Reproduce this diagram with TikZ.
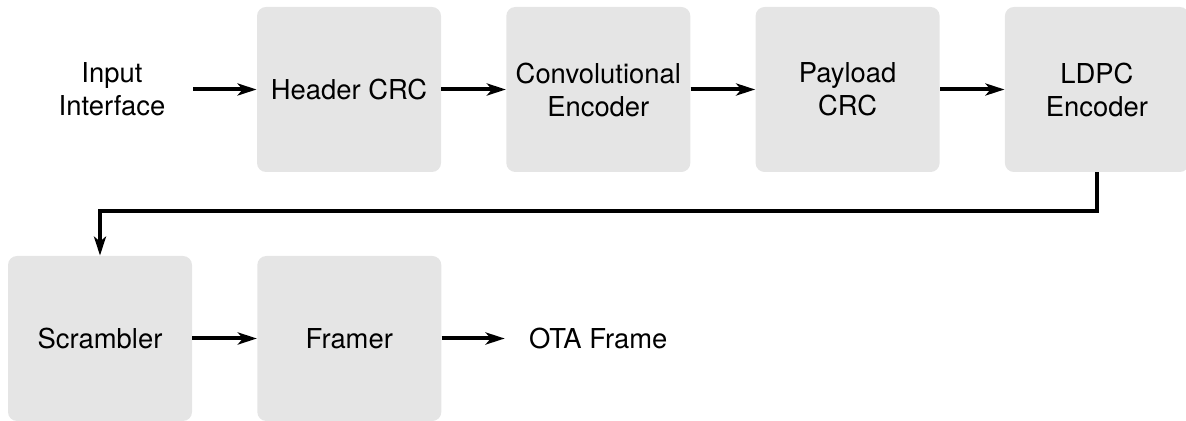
\documentclass[tikz,border=0pt]{standalone}
\usepackage{fontspec}
\setmainfont{TeX Gyre Heros}
\usetikzlibrary{positioning,arrows.meta}
\tikzset{
  block/.style={rectangle, rounded corners=4.5pt, fill=gray!20,
    minimum width=92pt, minimum height=82.5pt, align=center},
  arr/.style={line width=2pt, -{Stealth[length=9.5pt,width=6pt,inset=2.5pt]}},
}
\begin{document}
\begin{tikzpicture}[node distance=32.25pt,
  font=\fontsize{13.7}{16.5}\selectfont]
  \useasboundingbox (0pt,0pt) rectangle (593pt,-210.5pt);
  % top row
  \node[block] (hcrc) at (174.5pt,-44.75pt) {Header CRC};
  \node[block, right=of hcrc] (conv) {Convolutional\\Encoder};
  \node[block, right=of conv] (pcrc) {Payload\\CRC};
  \node[block, right=of pcrc] (ldpc) {LDPC\\Encoder};
  \node[align=center, minimum width=81pt, inner sep=0pt] (input) at (56pt,-44.75pt) {Input\\Interface};
  % bottom row
  \node[block] (scr) at (50pt,-169.25pt) {Scrambler};
  \node[block, right=of scr] (framer) {Framer};
  \node[right=31.5pt of framer, inner xsep=12pt, inner ysep=0pt] (ota) {OTA Frame};

  \draw[arr] (input) -- (hcrc);
  \draw[arr] (hcrc) -- (conv);
  \draw[arr] (conv) -- (pcrc);
  \draw[arr] (pcrc) -- (ldpc);
  \draw[arr] (ldpc.south) -- ++(0,-19.5pt) -| (scr.north);
  \draw[arr] (scr) -- (framer);
  \draw[arr] (framer) -- (ota);
\end{tikzpicture}
\end{document}
